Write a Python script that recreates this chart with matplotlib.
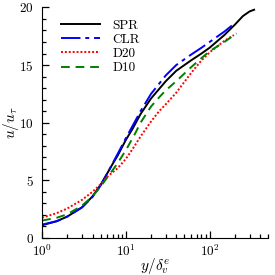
import matplotlib
matplotlib.use('Agg')
import matplotlib.pyplot as plt
from matplotlib.ticker import MultipleLocator, LogLocator

plt.rcParams['font.family'] = 'serif'
plt.rcParams['font.serif'] = ['cmr10', 'DejaVu Serif']
plt.rcParams['mathtext.fontset'] = 'cm'
plt.rcParams['axes.formatter.use_mathtext'] = True

# mean velocity profiles
spr_y = [1, 1.5, 2, 3, 4, 5, 6, 7, 8, 10, 12, 15, 20, 30, 40, 60, 80, 100, 150, 200, 250, 300, 340]
spr_u = [1.1, 1.45, 1.85, 2.65, 3.6, 4.6, 5.6, 6.45, 7.15, 8.5, 9.45, 10.75, 12.1, 13.6, 14.5, 15.4, 16.0, 16.5, 17.6, 18.5, 19.25, 19.65, 19.8]

clr_y = [1, 1.5, 2, 3, 4, 5, 6, 7, 8, 10, 12, 15, 20, 30, 40, 60, 80, 100, 150, 190]
clr_u = [1.15, 1.45, 1.85, 2.65, 3.55, 4.55, 5.6, 6.5, 7.3, 8.65, 9.7, 11.0, 12.5, 14.1, 15.0, 15.9, 16.5, 17.0, 17.9, 18.5]

d20_y = [1, 1.5, 2, 3, 4, 5, 6, 8, 10, 12, 15, 20, 25, 30, 40, 60, 80, 100, 150, 195]
d20_u = [1.75, 2.15, 2.55, 3.3, 4.0, 4.65, 5.3, 6.05, 6.85, 7.7, 8.8, 10.1, 11.0, 11.6, 12.6, 14.3, 15.4, 16.1, 17.1, 17.6]

d10_y = [1, 1.5, 2, 3, 4, 5, 6, 7, 8, 10, 13, 15, 20, 25, 30, 40, 60, 80, 100, 150, 210]
d10_u = [1.5, 1.75, 2.05, 2.8, 3.6, 4.45, 5.25, 5.9, 6.5, 7.6, 9.1, 10.0, 11.4, 12.2, 12.8, 13.6, 14.8, 15.6, 16.2, 17.0, 17.75]

fig = plt.figure(figsize=(2.75, 2.75), dpi=100)
ax = fig.add_axes([0.153, 0.135, 0.822, 0.838])

ax.plot(spr_y, spr_u, color='black', lw=1.4, label='SPR')
ax.plot(clr_y, clr_u, color='blue', lw=1.4, dashes=(10, 2.5, 2, 2.5), label='CLR')
ax.plot(d20_y, d20_u, color='red', lw=1.4, dashes=(1, 1), label='D20')
ax.plot(d10_y, d10_u, color='green', lw=1.4, dashes=(4.5, 3), label='D10')

ax.set_xscale('log')
ax.set_xlim(1, 500)
ax.set_ylim(0, 20)
ax.yaxis.set_major_locator(MultipleLocator(5))
ax.yaxis.set_minor_locator(MultipleLocator(1))
ax.xaxis.set_minor_locator(LogLocator(base=10, subs=range(2, 10)))

ax.spines['top'].set_visible(False)
ax.spines['right'].set_visible(False)
ax.tick_params(which='both', direction='in', labelsize=9.5, width=0.9)
ax.tick_params(which='major', length=5)
ax.tick_params(which='minor', length=3)
ax.tick_params(axis='x', pad=4)
ax.tick_params(axis='y', pad=6)

ax.set_xlabel(r'$y/\delta_v^e$', fontsize=11, labelpad=-2)
ax.set_ylabel(r'$u/u_\tau$', fontsize=11, labelpad=-1)

ax.legend(loc='upper left', bbox_to_anchor=(0.03, 1.0), frameon=False,
          fontsize=9.5, handlelength=3.0, handletextpad=0.9, labelspacing=0.15)

fig.savefig('out.png', dpi=100)
